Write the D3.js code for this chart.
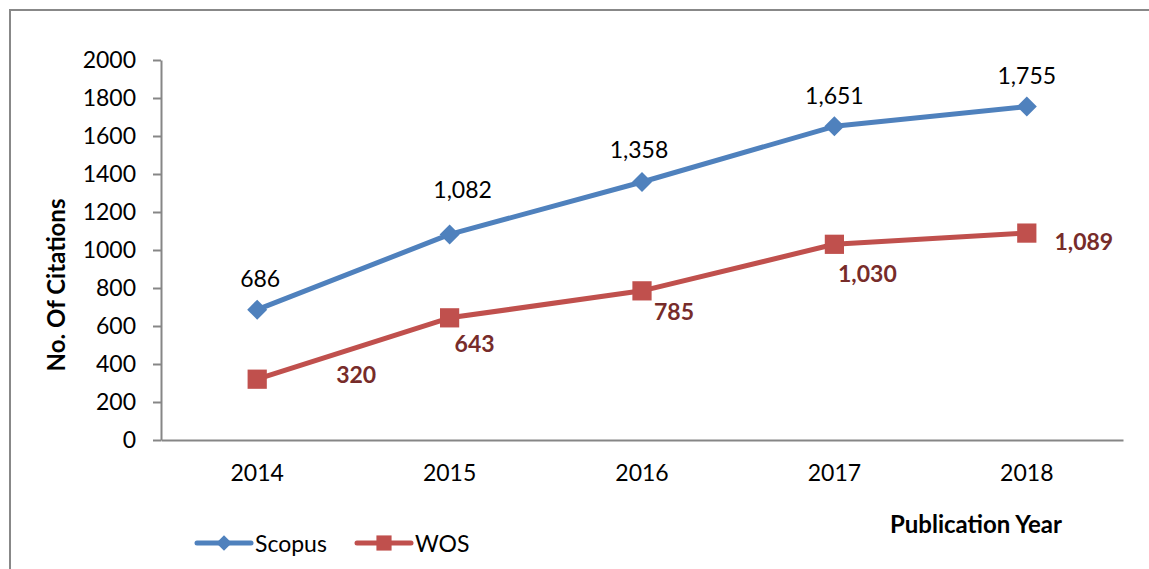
<!DOCTYPE html>
<html><head><meta charset="utf-8">
<script src="https://cdn.jsdelivr.net/npm/d3@7"></script>
<style>
body{margin:0;background:#fff}
svg{display:block}
text{font-family:Lato,"Open Sans",sans-serif}
</style>
</head><body>
<svg id="c" width="1149" height="569"></svg>
<script>
// ---- data ----
const years = ["2014", "2015", "2016", "2017", "2018"];
const scopus = [686, 1082, 1358, 1651, 1755];
const wos = [320, 643, 785, 1030, 1089];
const yTicks = [0, 200, 400, 600, 800, 1000, 1200, 1400, 1600, 1800, 2000];
const seriesNames = ["Scopus", "WOS"];
const yTitle = "No. Of Citations";
const xTitle = "Publication Year";

// ---- label placement (style, in px relative to the point) ----
const scopusLabelOffset = [[3, -23], [13, -36], [-3, -24], [0, -22], [0, -23]];
const wosLabelOffset = [[99, 4], [25, 34], [32, 29], [33, 38], [57, 17]];

const blue = "#4F81BD", red = "#C0504D", wosLabelColor = "#772C2A", axisColor = "#868686";
const fmt = d3.format(",");
const fs = 23;

const svg = d3.select("#c");

// outer border
svg.append("rect").attr("x", 10).attr("y", 10).attr("width", 1200).attr("height", 600)
  .attr("fill", "none").attr("stroke", "#888").attr("stroke-width", 2);

const x = d3.scaleBand().domain(years).range([161, 1123]).paddingInner(0).paddingOuter(0);
const y = d3.scaleLinear().domain([0, 2000]).range([440, 60]);
const cx = d => x(d) + x.bandwidth() / 2;

// y axis
const gy = svg.append("g").attr("transform", "translate(161,0)")
  .call(d3.axisLeft(y).tickValues(yTicks).tickSize(8).tickSizeOuter(0).tickPadding(17).tickFormat(d => d));
gy.selectAll("path,line").attr("stroke", axisColor).attr("stroke-width", 2);
gy.selectAll("text").attr("font-size", fs).attr("fill", "#000").attr("font-family", "Lato");

// x axis
const gx = svg.append("g").attr("transform", "translate(0,440)")
  .call(d3.axisBottom(x).tickSize(0).tickSizeOuter(0).tickPadding(25));
gx.select("path").attr("stroke", axisColor).attr("stroke-width", 2);
gx.selectAll("text").attr("font-size", fs).attr("fill", "#000").attr("font-family", "Lato");

// axis titles
svg.append("text").attr("transform", "translate(65,285) rotate(-90)")
  .attr("text-anchor", "middle").attr("font-size", 24).attr("font-weight", "bold").text(yTitle);
svg.append("text").attr("x", 1062).attr("y", 533).attr("text-anchor", "end")
  .attr("font-size", 24).attr("font-weight", "bold").text(xTitle);

// series
const line = d3.line().x((d, i) => cx(years[i])).y(d => y(d));
const diamond = d3.symbol().type(d3.symbolSquare).size(200);
const square = d3.symbol().type(d3.symbolSquare).size(370);

svg.append("path").datum(scopus).attr("d", line).attr("fill", "none")
  .attr("stroke", blue).attr("stroke-width", 5).attr("stroke-linejoin", "round");
svg.append("path").datum(wos).attr("d", line).attr("fill", "none")
  .attr("stroke", red).attr("stroke-width", 5).attr("stroke-linejoin", "round");

svg.selectAll(".dm").data(scopus).join("path").attr("class", "dm")
  .attr("d", diamond).attr("fill", blue)
  .attr("transform", (d, i) => `translate(${cx(years[i])},${y(d)}) rotate(45)`);
svg.selectAll(".sq").data(wos).join("path").attr("class", "sq")
  .attr("d", square).attr("fill", red)
  .attr("transform", (d, i) => `translate(${cx(years[i])},${y(d)})`);

// data labels
svg.selectAll(".ls").data(scopus).join("text").attr("class", "ls")
  .attr("x", (d, i) => cx(years[i]) + scopusLabelOffset[i][0])
  .attr("y", (d, i) => y(d) + scopusLabelOffset[i][1])
  .attr("text-anchor", "middle").attr("font-size", fs).attr("fill", "#000")
  .text(d => fmt(d));
svg.selectAll(".lw").data(wos).join("text").attr("class", "lw")
  .attr("x", (d, i) => cx(years[i]) + wosLabelOffset[i][0])
  .attr("y", (d, i) => y(d) + wosLabelOffset[i][1])
  .attr("text-anchor", "middle").attr("font-size", fs).attr("font-weight", "bold")
  .attr("fill", wosLabelColor).text(d => fmt(d));

// legend
const legend = [
  {name: seriesNames[0], color: blue, sym: d3.symbol().type(d3.symbolSquare).size(120), rot: 45, x0: 197},
  {name: seriesNames[1], color: red, sym: d3.symbol().type(d3.symbolSquare).size(230), rot: 0, x0: 357}
];
const lg = svg.selectAll(".lg").data(legend).join("g").attr("class", "lg")
  .attr("transform", d => `translate(${d.x0},543)`);
lg.append("line").attr("x1", 0).attr("x2", 54).attr("y1", 0).attr("y2", 0)
  .attr("stroke", d => d.color).attr("stroke-width", 5).attr("stroke-linecap", "round");
lg.append("path").attr("d", d => d.sym()).attr("fill", d => d.color)
  .attr("transform", d => `translate(27,0) rotate(${d.rot})`);
lg.append("text").attr("x", 58).attr("y", 9).attr("font-size", fs).attr("fill", "#000")
  .text(d => d.name);
</script>
</body></html>
